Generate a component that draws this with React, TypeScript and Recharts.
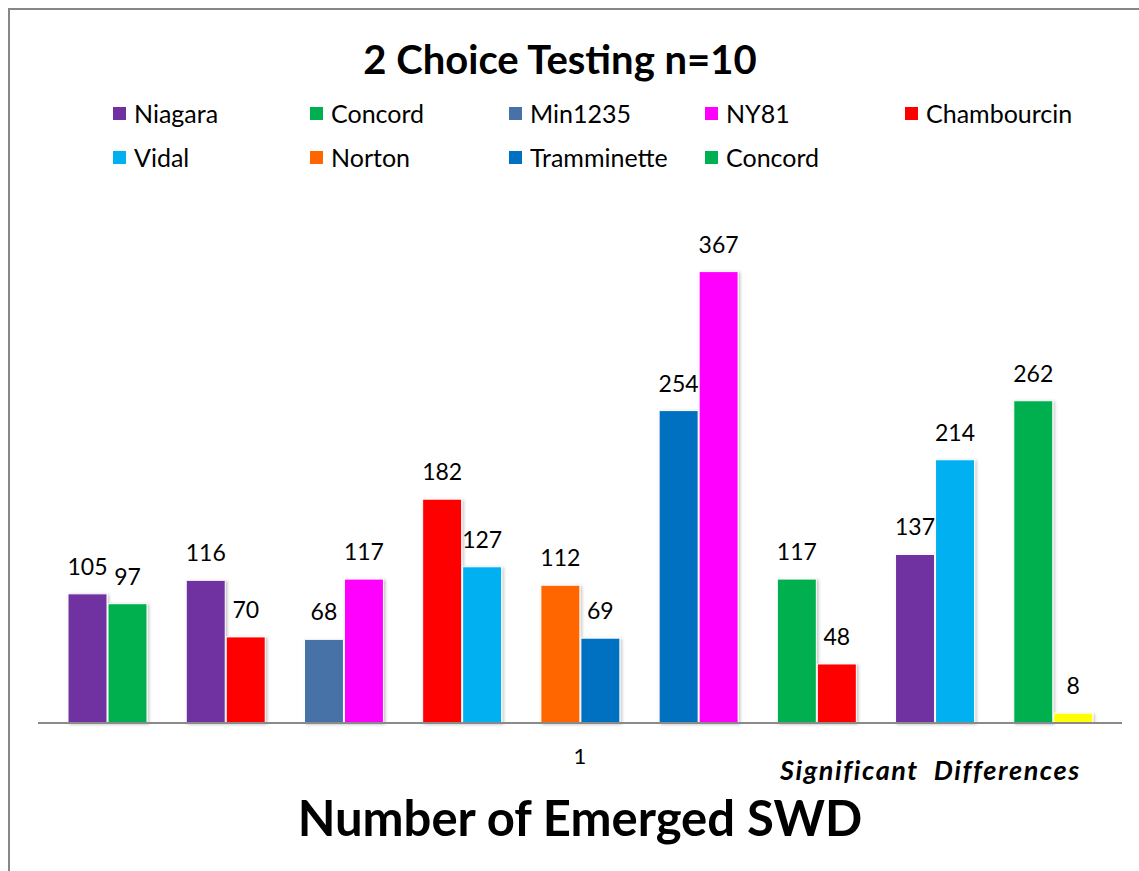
import { BarChart, Bar, XAxis, YAxis, Cell, LabelList } from "recharts"

// one Excel category ("1") holding nine pairs of cultivars
const categoryLabel = "1"
const pairNames = ["P1", "P2", "P3", "P4", "P5", "P6", "P7", "P8", "P9"]
const leftCultivars = ["Niagara", "Niagara", "Min1235", "Chambourcin", "Norton", "Tramminette", "Concord", "Niagara", "Concord"]
const leftValues = [105, 116, 68, 182, 112, 254, 117, 137, 262]
const rightCultivars = ["Concord", "Chambourcin", "NY81", "Vidal", "Tramminette", "NY81", "Chambourcin", "Vidal", "Other"]
const rightValues = [97, 70, 117, 127, 69, 367, 48, 214, 8]

const legendNames = ["Niagara", "Concord", "Min1235", "NY81", "Chambourcin", "Vidal", "Norton", "Tramminette", "Concord"]

const colors: Record<string, string> = {
    Niagara: "#7030A0",
    Concord: "#00B050",
    Min1235: "#4672A8",
    NY81: "#FF00FF",
    Chambourcin: "#FF0000",
    Vidal: "#00B0F0",
    Norton: "#FF6600",
    Tramminette: "#0070C0",
    Other: "#FFFF00"
}

const data = pairNames.map((name, i) => ({
    name,
    left: leftValues[i],
    right: rightValues[i]
}))

const font = "Lato, 'Open Sans', sans-serif"
const legendCols = [113, 310, 509, 705, 905]
const legendRows = [113, 157]

export default function App() {
    return (
        <div style={{ position: "absolute", left: 0, top: 0, width: 1139, height: 871, background: "#fff", overflow: "hidden", fontFamily: font }}>
            {/* chart frame (only left/top edges are in view) */}
            <div style={{ position: "absolute", left: 8, top: 8, width: 1200, height: 900, borderLeft: "2px solid #878787", borderTop: "2px solid #878787" }} />

            <div style={{ position: "absolute", left: 0, top: 36, width: 1120, textAlign: "center", fontSize: 40, fontWeight: 700, lineHeight: "46px", color: "#000" }}>
                2 Choice Testing n=10
            </div>

            {legendNames.map((name, i) => {
                const x = legendCols[i % 5]
                const y = legendRows[Math.floor(i / 5)]
                return (
                    <div key={`lg-${i}`} style={{ position: "absolute", left: x, top: y - 14, height: 28, display: "flex", alignItems: "center", fontSize: 25, color: "#000" }}>
                        <span style={{ display: "inline-block", width: 13, height: 13, background: colors[name], marginRight: 8 }} />
                        {name}
                    </div>
                )
            })}

            <div style={{ position: "absolute", left: 0, top: 0 }}>
                <BarChart width={1139} height={871} data={data} margin={{ top: 231, right: 17, bottom: 118, left: 38 }} barSize={39} barGap={1}>
                    <defs>
                        <filter id="barShadow" x="-20%" y="-5%" width="140%" height="110%">
                            <feDropShadow dx="1.5" dy="1" stdDeviation="1.5" floodColor="#000" floodOpacity="0.25" />
                        </filter>
                    </defs>
                    <XAxis
                        dataKey="name"
                        height={30}
                        padding={{ left: 10, right: 10 }}
                        axisLine={{ stroke: "#8a8a8a", strokeWidth: 2 }}
                        tickLine={false}
                        interval={0}
                        tick={{ fontSize: 22, fill: "#000", fontFamily: font }}
                        tickFormatter={(_v, i) => (i === 4 ? categoryLabel : "")}
                        dy={17}
                    />
                    <YAxis hide domain={[0, 400]} />
                    <Bar dataKey="left" isAnimationActive={false} stroke="#fff" strokeWidth={1} filter="url(#barShadow)">
                        {leftCultivars.map((c, i) => (
                            <Cell key={`l-${i}`} fill={colors[c]} />
                        ))}
                        <LabelList dataKey="left" position="top" offset={19} fontSize={23} fill="#000" fontFamily={font} />
                    </Bar>
                    <Bar dataKey="right" isAnimationActive={false} stroke="#fff" strokeWidth={1} filter="url(#barShadow)">
                        {rightCultivars.map((c, i) => (
                            <Cell key={`r-${i}`} fill={colors[c]} />
                        ))}
                        <LabelList dataKey="right" position="top" offset={19} fontSize={23} fill="#000" fontFamily={font} />
                    </Bar>
                </BarChart>
            </div>

            <div style={{ position: "absolute", left: 780, top: 754, fontSize: 27, fontWeight: 700, fontStyle: "italic", letterSpacing: 1.6, lineHeight: "32px", color: "#000", whiteSpace: "nowrap" }}>
                Significant&nbsp; Differences
            </div>

            <div style={{ position: "absolute", left: 0, top: 788, width: 1160, textAlign: "center", fontSize: 49, fontWeight: 700, lineHeight: "58px", color: "#000" }}>
                Number of Emerged SWD
            </div>
        </div>
    )
}
